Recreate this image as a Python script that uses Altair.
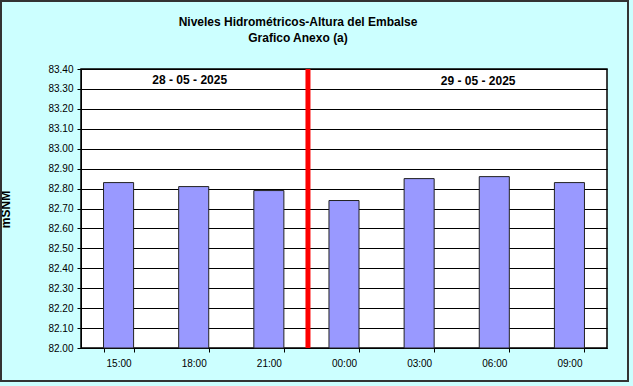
import altair as alt
import pandas as pd

horas = ["15:00", "18:00", "21:00", "00:00", "03:00", "06:00", "09:00"]
niveles = [82.83, 82.81, 82.79, 82.74, 82.85, 82.86, 82.83]
fechas = ["28 - 05 - 2025", "29 - 05 - 2025"]
fecha_hora = ["18:00", "03:00"]
corte = ["00:00"]
titulos = ["Niveles Hidrométricos-Altura del Embalse", "Grafico Anexo (a)"]
y_ticks = [round(82.0 + 0.1 * i, 2) for i in range(15)]

FONT = "Liberation Sans"

df = pd.DataFrame({"hora": horas, "nivel": niveles})
df_corte = pd.DataFrame({"hora": corte})

x_enc = alt.X("hora:N", sort=horas,
              scale=alt.Scale(domain=horas, paddingInner=0.6, paddingOuter=0.3),
              axis=alt.Axis(title=None, labelAngle=0, tickBand="extent",
                            labelFont=FONT, labelFontSize=10, labelColor="black",
                            domainColor="black", tickColor="black", tickSize=4,
                            labelPadding=6, grid=False))
y_scale = alt.Scale(domain=[82.0, 83.4], nice=False, zero=False)

bars = alt.Chart(df).mark_bar(color="#9999FF", stroke="#222222", strokeWidth=1).encode(
    x=x_enc,
    y=alt.Y("nivel:Q", scale=y_scale,
            axis=alt.Axis(title="mSNM", values=y_ticks, format=".2f",
                          labelFont=FONT, labelFontSize=10, labelColor="black",
                          titleFont=FONT, titleFontSize=12, titleFontWeight="bold",
                          titleColor="black", titleX=-69, titleY=140,
                          titleAngle=-90, titleAlign="center",
                          grid=True, gridColor="black", gridOpacity=1, gridWidth=1,
                          domainColor="black", tickColor="black", tickSize=4,
                          labelPadding=4)),
    y2=alt.datum(82.0),
)

# day boundary: start of the 00:00 band shifted back by half the gap between bars
linea = alt.Chart(df_corte).mark_rule(color="#FF0000", strokeWidth=5, xOffset=-21).encode(
    x=alt.X("hora:N", sort=horas, bandPosition=0),
)

txt1 = alt.Chart(pd.DataFrame({"hora": [fecha_hora[0]], "t": [fechas[0]]})).mark_text(
    font=FONT, fontSize=12, fontWeight="bold", color="black", dx=-4, baseline="middle"
).encode(x=alt.X("hora:N", sort=horas), y=alt.value(11), text="t:N")

txt2 = alt.Chart(pd.DataFrame({"hora": [fecha_hora[1]], "t": [fechas[1]]})).mark_text(
    font=FONT, fontSize=12, fontWeight="bold", color="black", dx=59, baseline="middle"
).encode(x=alt.X("hora:N", sort=horas), y=alt.value(12), text="t:N")

tit1 = alt.Chart(pd.DataFrame({"t": [titulos[0]]})).mark_text(
    font=FONT, fontSize=12, fontWeight="bold", color="black", baseline="middle"
).encode(x=alt.value(217), y=alt.value(-47), text="t:N")

tit2 = alt.Chart(pd.DataFrame({"t": [titulos[1]]})).mark_text(
    font=FONT, fontSize=12, fontWeight="bold", color="black", baseline="middle"
).encode(x=alt.value(217), y=alt.value(-31), text="t:N")

marco = alt.Chart(pd.DataFrame({"a": [0]})).mark_rect(
    fill=None, stroke="#333333", strokeWidth=2, clip=False
).encode(x=alt.value(-80), x2=alt.value(547), y=alt.value(-68), y2=alt.value(312))

chart = alt.layer(marco, bars, linea, txt1, txt2, tit1, tit2).properties(
    width=526, height=279,
    autosize=alt.AutoSizeParams(type="none"),
    padding={"left": 81, "top": 69, "right": 26, "bottom": 38},
    background="#CCFFFF",
).configure_view(fill="white", stroke="black", strokeWidth=1.5)

chart.save("out.html", embed_options={"renderer": "svg", "actions": False})
